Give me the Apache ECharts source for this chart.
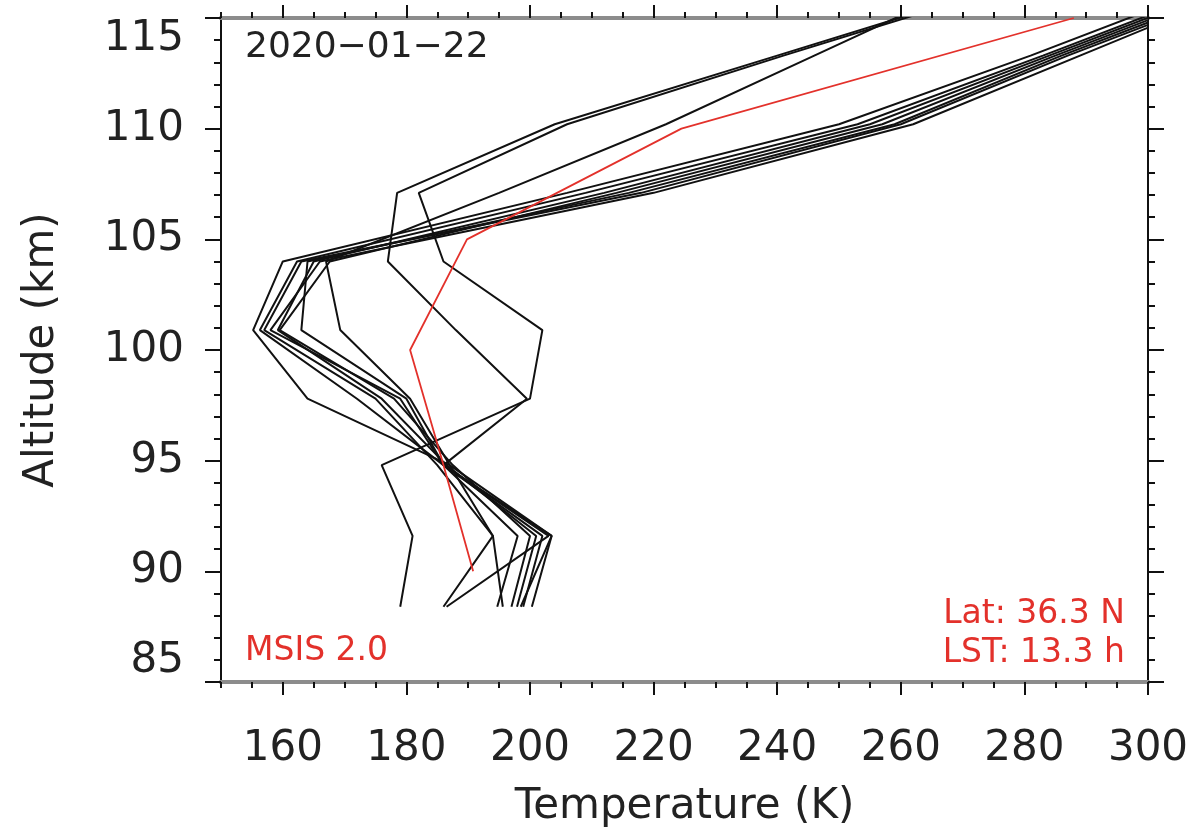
<!DOCTYPE html>
<html>
<head>
<meta charset="utf-8">
<script src="https://cdn.jsdelivr.net/npm/echarts@6/dist/echarts.min.js"></script>
<style>
html,body{margin:0;padding:0;background:#fff;}
#chart{width:1197px;height:838px;}
</style>
</head>
<body>
<div id="chart"></div>
<script>
// ---- data ----
const altitudeLevels = [88.4, 91.6, 94.8, 97.8, 100.9, 104.0, 107.1, 110.2, 113.3, 116.4];
const profileQ  = [179.0, 181.0, 176.0, 200.0, 202.0, 186.0, 182.0, 206.0, 241.0, 277.0];
const profileR  = [198.5, 203.5, 186.0, 199.5, 188.0, 177.0, 178.5, 204.0, 240.0, 276.0];
const profileM  = [195.6, 194.0, 187.0, 180.6, 169.3, 167.0, 195.0, 222.0, 246.0, 270.0];
const profileB1 = [200.3, 203.5, 187.0, 164.0, 155.2, 160.0, 206.0, 250.0, 281.0, 310.0];
const profileB2 = [198.9, 202.0, 186.0, 172.0, 156.3, 162.3, 209.0, 253.0, 283.0, 312.0];
const profileB3 = [197.9, 201.0, 186.5, 176.0, 159.2, 165.0, 212.0, 255.0, 284.0, 313.0];
const profileB4 = [197.0, 200.0, 187.5, 178.0, 159.5, 167.6, 214.0, 257.0, 285.0, 314.0];
const profileB5 = [194.7, 198.0, 186.0, 180.0, 163.0, 164.0, 216.0, 259.0, 286.0, 315.0];
const profileB6 = [186.0, 194.0, 185.0, 175.0, 157.0, 163.0, 218.0, 260.0, 287.0, 316.0];
const profileE  = [186.5, 203.0, 186.0, 179.0, 158.0, 166.0, 220.0, 262.0, 289.0, 316.0];
const msisAltitude = [90, 95, 100, 105, 110, 115];
const msisTemp     = [190.8, 185.8, 180.6, 189.8, 224.5, 288.0];
const xTickLabels = [160, 180, 200, 220, 240, 260, 280, 300];
const yTickLabels = [85, 90, 95, 100, 105, 110, 115];
const dateText = '2020\u221201\u221222';
const modelText = 'MSIS 2.0';
const latText = 'Lat: 36.3 N';
const lstText = 'LST: 13.3 h';

const profiles = [profileQ, profileR, profileM, profileB1, profileB2, profileB3, profileB4, profileB5, profileB6, profileE];

// ---- chart ----
const chart = echarts.init(document.getElementById('chart'), null, {renderer: 'canvas'});
const FONT = 'DejaVu Sans';
const X_MIN = 150, X_MAX = 300, Y_MIN = 85, Y_MAX = 115;
const grayLine = {show: true, lineStyle: {color: '#8c8c8c', width: 4}};
const blackLine = {show: true, lineStyle: {color: '#111', width: 2}};

function xAx(position, major) {
  return {
    type: 'value', min: X_MIN, max: X_MAX, position: position,
    interval: 5,
    axisLine: grayLine,
    splitLine: {show: false},
    axisTick: major
      ? {show: true, customValues: xTickLabels, length: 13, lineStyle: {color: '#111', width: 2}}
      : {show: true, length: 6, lineStyle: {color: '#111', width: 2}},
    axisLabel: (major && position === 'bottom')
      ? {show: true, customValues: xTickLabels, fontFamily: FONT, fontSize: 42, color: '#222', margin: 46}
      : {show: false},
    name: (major && position === 'bottom') ? 'Temperature (K)' : '',
    nameLocation: 'middle', nameGap: 104,
    nameTextStyle: {fontFamily: FONT, fontSize: 42, color: '#222'}
  };
}
function yAx(position, major) {
  return {
    type: 'value', min: Y_MIN, max: Y_MAX, position: position,
    interval: major ? 5 : 1,
    axisLine: blackLine,
    splitLine: {show: false},
    axisTick: {show: true, length: major ? 16 : 7, lineStyle: {color: '#111', width: 2}},
    axisLabel: (major && position === 'left')
      ? {show: true, customValues: yTickLabels, fontFamily: FONT, fontSize: 42, color: '#222', margin: 37,
         verticalAlignMinLabel: 'bottom', verticalAlignMaxLabel: 'top'}
      : {show: false},
    name: (major && position === 'left') ? 'Altitude (km)' : '',
    nameLocation: 'middle', nameGap: 158,
    nameTextStyle: {fontFamily: FONT, fontSize: 42, color: '#222'}
  };
}

const series = profiles.map(function (p, i) {
  return {
    type: 'line', name: 'p' + i, xAxisIndex: 0, yAxisIndex: 0,
    data: p.map(function (t, k) { return [t, altitudeLevels[k]]; }),
    symbol: 'none', clip: true, silent: true,
    lineStyle: {color: '#111', width: 2},
    z: 2
  };
});
series.push({
  type: 'line', name: 'MSIS', xAxisIndex: 0, yAxisIndex: 0,
  data: msisTemp.map(function (t, k) { return [t, msisAltitude[k]]; }),
  symbol: 'none', clip: true, silent: true,
  lineStyle: {color: '#e3312b', width: 1.8},
  z: 3
});

chart.setOption({
  animation: false,
  backgroundColor: '#fff',
  grid: {left: 221, right: 49, top: 18, bottom: 156, containLabel: false},
  xAxis: [xAx('bottom', false), xAx('bottom', true), xAx('top', false), xAx('top', true)],
  yAxis: [yAx('left', false), yAx('left', true), yAx('right', false), yAx('right', true)],
  series: series,
  graphic: [
    {type: 'text', left: 245, top: 30, style: {text: dateText, font: '36px "DejaVu Sans"', fill: '#222'}},
    {type: 'text', left: 245, top: 635, style: {text: modelText, font: '33px "DejaVu Sans"', fill: '#e3312b'}},
    {type: 'text', right: 72, top: 598, style: {text: latText, font: '33px "DejaVu Sans"', fill: '#e3312b', align: 'right'}},
    {type: 'text', right: 72, top: 637, style: {text: lstText, font: '33px "DejaVu Sans"', fill: '#e3312b', align: 'right'}}
  ]
});
</script>
</body>
</html>
